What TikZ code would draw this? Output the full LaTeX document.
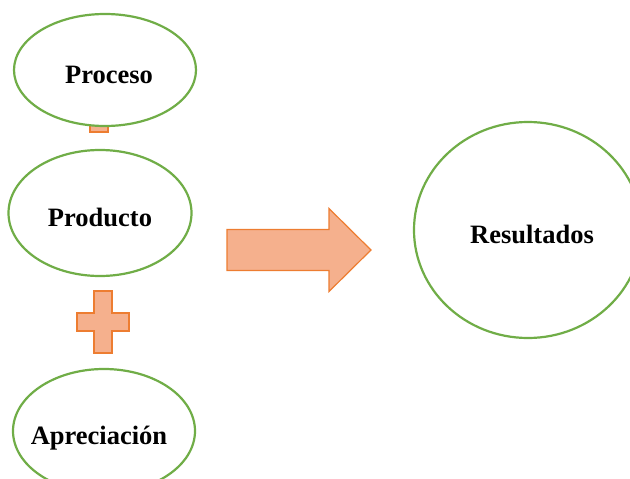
\documentclass[tikz,border=0pt]{standalone}
\usepackage{fontspec}
\setmainfont{Liberation Serif}
\usetikzlibrary{shapes.geometric}
\definecolor{ovalgreen}{RGB}{112,173,71}
\definecolor{signfill}{RGB}{245,176,141}
\definecolor{signline}{RGB}{237,125,49}
\tikzstyle{oval}=[ellipse, draw=ovalgreen, line width=2.2pt, fill=white,
                  inner sep=0pt, text height=26pt, text depth=0pt,
                  font=\bfseries\fontsize{26.5}{30}\selectfont]
\tikzstyle{sign}=[fill=signfill, draw=signline, line width=1.2pt, line join=miter]
\newcommand{\plusmark}[1]{\draw[sign] (#1) ++(-9,-31) -- ++(18,0) -- ++(0,22) -- ++(17,0)
  -- ++(0,18) -- ++(-17,0) -- ++(0,22) -- ++(-18,0) -- ++(0,-22) -- ++(-17,0)
  -- ++(0,-18) -- ++(17,0) -- cycle;}
\newcommand{\ovaltext}[2]{\makebox[0pt]{\hspace{#1}#2}}

\begin{document}
\begin{tikzpicture}[x=1pt,y=-1pt]
  \useasboundingbox (0,0) rectangle (630,479);
  \coordinate (plusone) at (99,101);
  \coordinate (plustwo) at (103,322);
  \coordinate (arrowtail) at (227,250);
  \plusmark{plusone}
  \plusmark{plustwo}
  \node[oval, minimum width=182pt, minimum height=112pt] (proceso) at (105,70) {\ovaltext{8pt}{Proceso}};
  \node[oval, minimum width=183pt, minimum height=126pt] (producto) at (100,213) {\ovaltext{0pt}{Producto}};
  \node[oval, minimum width=182pt, minimum height=124pt] (apreciacion) at (104,431) {\ovaltext{-10pt}{Apreciación}};
  \node[oval, minimum width=228pt, minimum height=216pt] (resultados) at (528,230) {\ovaltext{8pt}{Resultados}};
  \draw[sign] (arrowtail) ++(0,-20.5) -- ++(102,0) -- ++(0,-21) -- ++(42,41.5)
    -- ++(-42,41.5) -- ++(0,-21) -- ++(-102,0) -- cycle;
\end{tikzpicture}
\end{document}
